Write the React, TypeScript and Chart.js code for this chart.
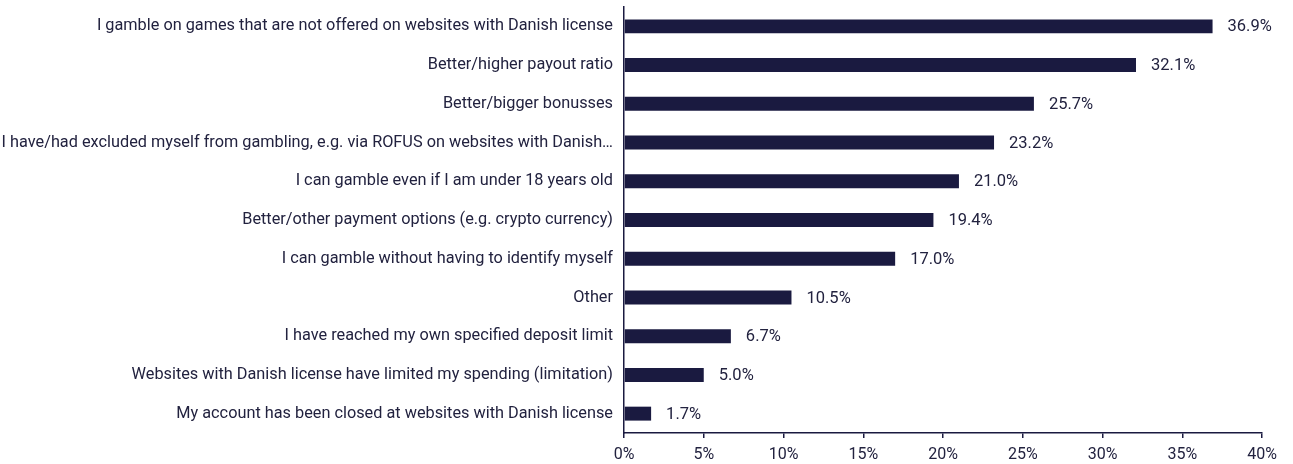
import React, { useEffect, useRef } from "react";
import { Chart, registerables } from "chart.js";

Chart.register(...registerables);

const categories = [
  "I gamble on games that are not offered on websites with Danish license",
  "Better/higher payout ratio",
  "Better/bigger bonusses",
  "I have/had excluded myself from gambling, e.g. via ROFUS on websites with Danish…",
  "I can gamble even if I am under 18 years old",
  "Better/other payment options (e.g. crypto currency)",
  "I can gamble without having to identify myself",
  "Other",
  "I have reached my own specified deposit limit",
  "Websites with Danish license have limited my spending (limitation)",
  "My account has been closed at websites with Danish license",
];
const values = [36.9, 32.1, 25.7, 23.2, 21.0, 19.4, 17.0, 10.5, 6.7, 5.0, 1.7];
const xTicks = [0, 5, 10, 15, 20, 25, 30, 35, 40];

const NAVY = "#1a1a40";
const TEXT = "#22223f";
const FONT = "Roboto, 'Noto Sans', sans-serif";

const valueLabels = {
  id: "valueLabels",
  afterDatasetsDraw(chart: any) {
    const ctx = chart.ctx;
    const meta = chart.getDatasetMeta(0);
    ctx.save();
    ctx.font = `16.5px ${FONT}`;
    ctx.fillStyle = TEXT;
    ctx.textAlign = "left";
    ctx.textBaseline = "middle";
    meta.data.forEach((bar: any, i: number) => {
      ctx.fillText(values[i].toFixed(1) + "%", bar.x + 15, bar.y + 1);
    });
    ctx.restore();
  },
};

export default function App() {
  const ref = useRef<HTMLCanvasElement>(null);
  useEffect(() => {
    const chart = new Chart(ref.current!, {
      type: "bar",
      data: {
        labels: categories,
        datasets: [
          {
            data: values,
            backgroundColor: NAVY,
            barPercentage: 0.36,
            categoryPercentage: 1,
          },
        ],
      },
      plugins: [valueLabels],
      options: {
        indexAxis: "y",
        animation: false,
        responsive: false,
        maintainAspectRatio: false,
        layout: { padding: { top: 7, right: 31, left: 0, bottom: 0 } },
        plugins: { legend: { display: false }, tooltip: { enabled: false } },
        scales: {
          x: {
            min: 0,
            max: 40,
            afterFit: (s: any) => {
              s.height = 31;
            },
            afterBuildTicks: (s: any) => {
              s.ticks = xTicks.map((v) => ({ value: v }));
            },
            ticks: {
              color: TEXT,
              font: { family: FONT, size: 16 },
              padding: 7,
              callback: (v: any) => v + "%",
            },
            grid: {
              drawOnChartArea: false,
              drawTicks: true,
              tickLength: 5,
              color: NAVY,
              lineWidth: 1.5,
            },
            border: { display: true, color: NAVY, width: 1.5 },
          },
          y: {
            afterFit: (s: any) => {
              s.width = 624;
              s.paddingTop = 0;
              s.paddingBottom = 0;
            },
            ticks: {
              color: TEXT,
              font: { family: FONT, size: 16.3 },
              padding: 11,
              autoSkip: false,
            },
            grid: { drawOnChartArea: false, drawTicks: false },
            border: { display: true, color: NAVY, width: 1.5 },
          },
        },
      },
    });
    return () => chart.destroy();
  }, []);
  return (
    <div style={{ position: "absolute", left: 0, top: 0, width: 1293, height: 464, background: "#fff" }}>
      <canvas ref={ref} width={1293} height={464} />
    </div>
  );
}
